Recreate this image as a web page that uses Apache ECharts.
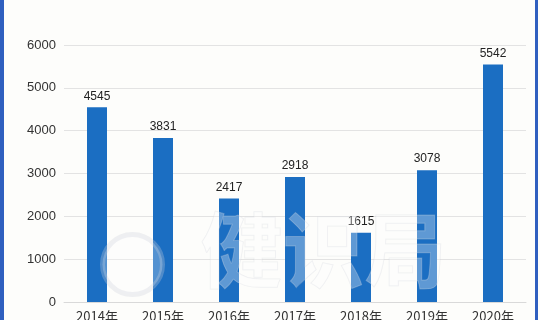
<!DOCTYPE html>
<html>
<head>
<meta charset="utf-8">
<script src="https://cdn.jsdelivr.net/npm/echarts@6/dist/echarts.min.js"></script>
<style>
html,body{margin:0;padding:0;background:#fdfdfb;}
#c{width:540px;height:320px;}
</style>
</head>
<body>
<div id="c"></div>
<script>
const categories = ['2014年','2015年','2016年','2017年','2018年','2019年','2020年'];
const values = [4545, 3831, 2417, 2918, 1615, 3078, 5542];
const yTicks = [0, 1000, 2000, 3000, 4000, 5000, 6000];

const chart = echarts.init(document.getElementById('c'), null, {renderer: 'canvas'});
chart.setOption({
  backgroundColor: '#fdfdfb',
  animation: false,
  grid: {left: 64, right: 14, top: 45, bottom: 18, containLabel: false, outerBoundsMode: 'none'},
  xAxis: {
    type: 'category',
    data: categories,
    axisLine: {lineStyle: {color: '#d9d9d9'}},
    axisTick: {show: false},
    axisLabel: {color: '#333', fontSize: 13, margin: 8, fontFamily: 'Noto Sans CJK SC'}
  },
  yAxis: {
    type: 'value',
    min: yTicks[0],
    max: yTicks[yTicks.length - 1],
    interval: 1000,
    axisLine: {show: false},
    axisTick: {show: false},
    axisLabel: {color: '#333', fontSize: 13, margin: 8, fontFamily: 'Liberation Sans',
                formatter: function (v) { return String(v); }},
    splitLine: {lineStyle: {color: '#e3e3e3'}}
  },
  series: [{
    type: 'bar',
    data: values,
    barWidth: 20,
    itemStyle: {color: '#1b6ec2'},
    label: {show: true, position: 'top', distance: 5, color: '#222', fontSize: 12, fontFamily: 'Liberation Sans'}
  }],
  graphic: [
    {type: 'rect', left: 0, top: 0, shape: {width: 4, height: 320}, style: {fill: '#2f5fbf'}, z: 100},
    {type: 'rect', left: 535, top: 0, shape: {width: 3, height: 320}, style: {fill: '#2f5fbf'}, z: 100},
    {type: 'text', left: 200, top: 208, z: 50, silent: true,
     style: {text: '健识局', fontSize: 82, fontFamily: 'Noto Sans CJK SC', fontWeight: 'bold',
             fill: 'rgba(255,255,255,0.3)', stroke: 'rgba(205,210,220,0.3)', lineWidth: 1}},
    {type: 'circle', left: 100, top: 232, z: 50, silent: true,
     shape: {r: 30}, style: {fill: 'rgba(255,255,255,0.25)', stroke: 'rgba(205,210,220,0.3)', lineWidth: 5}}
  ]
});
</script>
</body>
</html>
